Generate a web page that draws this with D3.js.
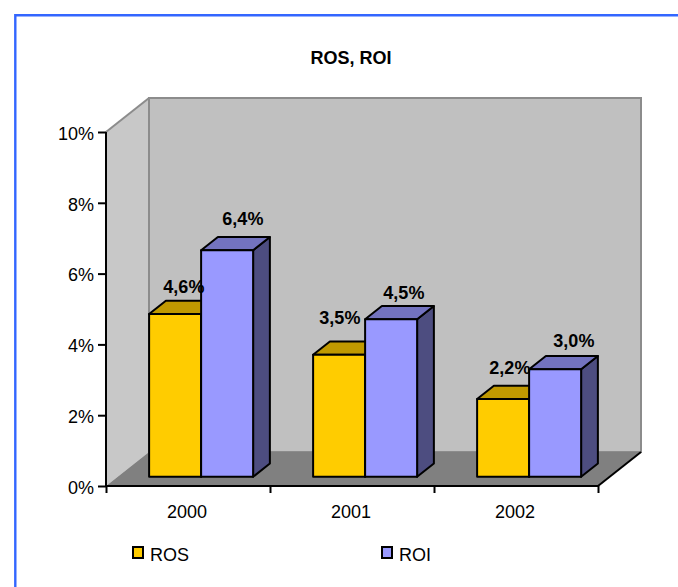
<!DOCTYPE html>
<html>
<head>
<meta charset="utf-8">
<script src="https://d3js.org/d3.v7.min.js"></script>
<style>
  html, body { margin: 0; padding: 0; background: #fff; }
  svg { display: block; }
  text { font-family: "Liberation Sans", Arial, sans-serif; font-size: 18px; fill: #000; }
  .bold { font-weight: bold; }
  .axis path, .axis line { stroke: #000; stroke-width: 2px; }
</style>
</head>
<body>
<div id="chart"></div>
<script>
var years = ["2000", "2001", "2002"];
var seriesNames = ["ROS", "ROI"];
// the labels round these to one decimal
var ros = [4.6, 3.45, 2.2];
var roi = [6.4, 4.45, 3.04];
var yTicks = [0, 2, 4, 6, 8, 10];

var w = 678, h = 587;
var left = 106, right = 598, bottom = 486, top10 = 132;
var depthDx = 43, depthDy = -34;

var svg = d3.select("#chart").append("svg").attr("width", w).attr("height", h);

// frame, only top and left edges are visible in the picture
svg.append("path")
  .attr("d", d3.line()([[15.3, h], [15.3, 15.3], [w, 15.3]]))
  .attr("fill", "none").attr("stroke", "#3366ff").attr("stroke-width", 2.4);

var y = d3.scaleLinear().domain([0, 10]).range([bottom, top10]);
var x = d3.scaleBand().domain(years).range([left, right])
  .paddingInner(60 / 164).paddingOuter(30 / 164);
var xInner = d3.scaleBand().domain(seriesNames).range([0, x.bandwidth()]);
var tickX = d3.scaleLinear().domain([0, years.length]).range([left, right]);

// 0 = front of the floor, 1 = back wall
function px(d) { return d * depthDx; }
function py(d) { return d * depthDy; }
var line = d3.line();

/* walls and floor */
var wallStroke = "#8c8c8c";
svg.append("path")
  .attr("d", line([[left, bottom], [left, top10], [left + depthDx, top10 + depthDy], [left + depthDx, bottom + depthDy]]) + "Z")
  .attr("fill", "#c8c8c8");
svg.append("path")
  .attr("d", line([[left + depthDx, bottom + depthDy], [left + depthDx, top10 + depthDy], [right + depthDx, top10 + depthDy], [right + depthDx, bottom + depthDy]]) + "Z")
  .attr("fill", "#c0c0c0").attr("stroke", wallStroke).attr("stroke-width", 2);
svg.append("path")
  .attr("d", line([[left, top10], [left + depthDx, top10 + depthDy]]))
  .attr("stroke", wallStroke).attr("stroke-width", 2);
svg.append("path")
  .attr("d", line([[left, bottom], [left + depthDx, bottom + depthDy], [right + depthDx, bottom + depthDy], [right, bottom]]) + "Z")
  .attr("fill", "#808080");
svg.append("path")
  .attr("d", line([[right, bottom], [right + depthDx, bottom + depthDy]]))
  .attr("stroke", "#000").attr("stroke-width", 2);

/* axes */
var yAxis = d3.axisLeft(y).tickValues(yTicks).tickSize(8).tickPadding(4)
  .tickFormat(function(d) { return d + "%"; });
svg.append("g").attr("class", "axis").attr("transform", "translate(" + left + ",0)").call(yAxis)
  .call(function(g) { g.select(".domain").attr("d", line([[0, top10], [0, bottom]])); })
  .selectAll("text").attr("dy", "0.41em");

var xAxis = d3.axisBottom(tickX).tickValues(d3.range(years.length + 1)).tickSize(7).tickFormat("");
svg.append("g").attr("class", "axis").attr("transform", "translate(0," + bottom + ")").call(xAxis)
  .call(function(g) { g.select(".domain").attr("d", line([[left, 0], [right, 0]])); });

svg.selectAll("text.year").data(years).enter().append("text")
  .attr("class", "year")
  .attr("x", function(d, i) { return tickX(i + 0.5) - 1; })
  .attr("y", 518)
  .attr("text-anchor", "middle")
  .text(function(d) { return d; });

/* bars */
var styles = {
  ROS: { front: "#ffcc00", top: "#c09900", side: "#806600" },
  ROI: { front: "#9999ff", top: "#7373bf", side: "#4d4d80" }
};
var depthFront = 0.27, depthBack = 0.66, barShift = 1.5;
var barData = [];
years.forEach(function(yr, i) {
  barData.push({ year: yr, name: "ROS", value: ros[i] });
  barData.push({ year: yr, name: "ROI", value: roi[i] });
});
// labels sit by hand in the original, so they don't follow one rule
var labelDx = [-8, -1, -16, -4, -10, 2];
var labelDy = [-8, -12, -17, -7, -12, -9];

var bars = svg.selectAll("g.bar").data(barData).enter().append("g").attr("class", "bar");
var ddx = px(depthBack) - px(depthFront), ddy = py(depthBack) - py(depthFront);

function box(d) {
  var x0 = x(d.year) + xInner(d.name) + px(depthFront) + barShift;
  var x1 = x0 + xInner.bandwidth();
  return { x0: x0, x1: x1, y0: y(d.value) + py(depthFront), y1: y(0) + py(depthFront) };
}
bars.append("path")
  .attr("d", function(d) { var b = box(d); return line([[b.x1, b.y0], [b.x1 + ddx, b.y0 + ddy], [b.x1 + ddx, b.y1 + ddy], [b.x1, b.y1]]) + "Z"; })
  .attr("fill", function(d) { return styles[d.name].side; });
bars.append("path")
  .attr("d", function(d) { var b = box(d); return line([[b.x0, b.y0], [b.x0 + ddx, b.y0 + ddy], [b.x1 + ddx, b.y0 + ddy], [b.x1, b.y0]]) + "Z"; })
  .attr("fill", function(d) { return styles[d.name].top; });
bars.append("rect")
  .attr("x", function(d) { return box(d).x0; })
  .attr("y", function(d) { return box(d).y0; })
  .attr("width", xInner.bandwidth())
  .attr("height", function(d) { var b = box(d); return b.y1 - b.y0; })
  .attr("fill", function(d) { return styles[d.name].front; });
bars.selectAll("path,rect").attr("stroke", "#000").attr("stroke-width", 2).attr("stroke-linejoin", "round");

/* value labels on top of everything */
svg.selectAll("text.val").data(barData).enter().append("text")
  .attr("class", "val bold")
  .attr("x", function(d, i) { var b = box(d); return (b.x0 + b.x1) / 2 + ddx + labelDx[i]; })
  .attr("y", function(d, i) { return box(d).y0 + ddy + labelDy[i]; })
  .attr("text-anchor", "middle")
  .text(function(d) { return d.value.toFixed(1).replace(".", ",") + "%"; });

/* title */
svg.append("text").attr("class", "bold")
  .attr("x", 351).attr("y", 64).attr("text-anchor", "middle")
  .text("ROS, ROI");

/* legend */
var legendX = d3.scalePoint().domain(seriesNames).range([133, 382]);
var legend = svg.selectAll("g.legend").data(seriesNames).enter().append("g")
  .attr("class", "legend")
  .attr("transform", function(d) { return "translate(" + legendX(d) + ",547)"; });
legend.append("rect").attr("width", 10).attr("height", 11)
  .attr("fill", function(d) { return styles[d].front; })
  .attr("stroke", "#000").attr("stroke-width", 2);
legend.append("text").attr("x", 17).attr("y", 13.5).text(function(d) { return d; });
</script>
</body>
</html>
